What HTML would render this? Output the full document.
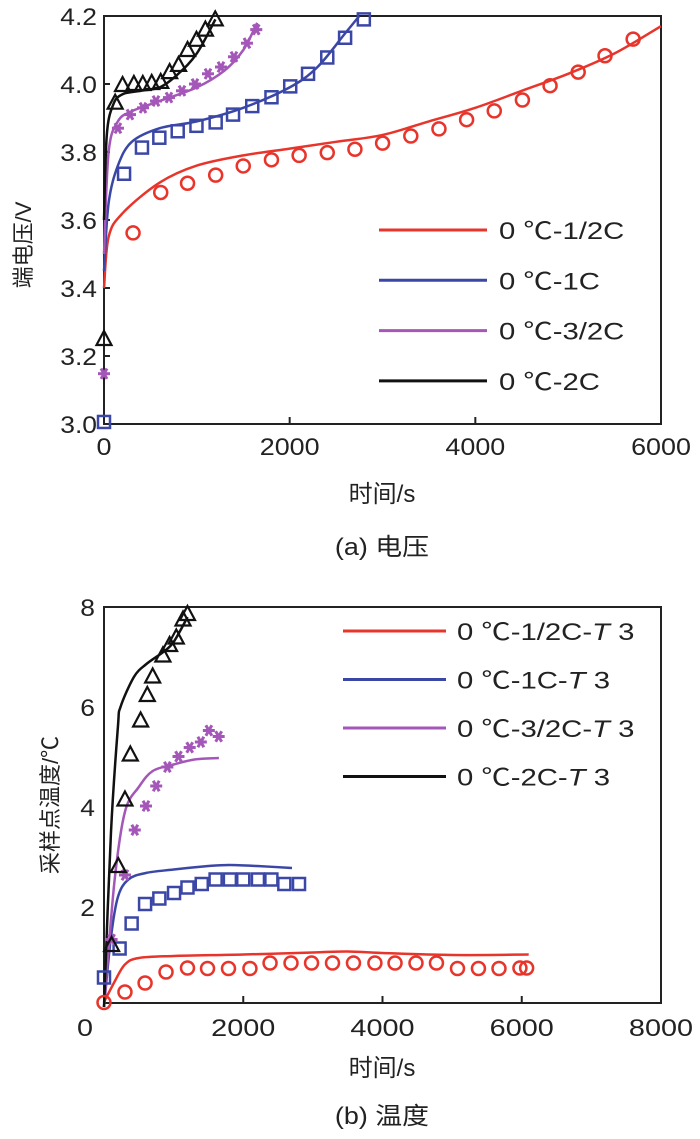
<!DOCTYPE html>
<html><head><meta charset="utf-8">
<style>
html,body{margin:0;padding:0;background:#fff;}
svg{display:block;font-family:"Liberation Sans","Noto Sans CJK SC",sans-serif;}
</style></head>
<body>
<svg id="chart" width="700" height="1139" viewBox="0 0 700 1139" xmlns="http://www.w3.org/2000/svg"></svg>
<script>
// ---------- Chart (a) voltage data ----------
const aRedMarkT = [313,611,900,1203,1500,1804,2102,2405,2703,3001,3305,3608,3906,4204,4507,4805,5108,5397,5700];
const aRedMarkV = [3.562,3.681,3.708,3.732,3.759,3.777,3.790,3.798,3.808,3.826,3.847,3.868,3.895,3.921,3.953,3.995,4.035,4.083,4.132];
const aRedLineT = [0,50,200,600,1000,1500,2000,2500,3000,3500,4000,4500,5000,5500,6000];
const aRedLineV = [3.40,3.55,3.62,3.71,3.76,3.79,3.81,3.83,3.85,3.89,3.93,3.98,4.03,4.09,4.17];
const aBlueMarkT = [0,216,409,596,794,996,1203,1390,1597,1804,2006,2198,2405,2597,2799];
const aBlueMarkV = [3.006,3.736,3.813,3.842,3.861,3.877,3.887,3.910,3.935,3.961,3.993,4.030,4.078,4.136,4.190];
const aBlueLineT = [0,50,150,300,600,1000,1500,2000,2300,2600,2750];
const aBlueLineV = [3.45,3.65,3.76,3.83,3.87,3.89,3.93,3.99,4.05,4.15,4.20];
const aPurpMarkT = [0,150,280,420,560,700,840,980,1120,1260,1400,1540,1640];
const aPurpMarkV = [3.148,3.87,3.91,3.93,3.95,3.96,3.98,4.00,4.03,4.05,4.08,4.12,4.16];
const aPurpLineT = [0,50,150,300,600,1000,1300,1500,1650];
const aPurpLineV = [3.50,3.80,3.89,3.92,3.95,3.99,4.04,4.10,4.18];
const aBlkMarkT = [0,120,200,322,418,514,611,707,803,900,996,1092,1198];
const aBlkMarkV = [3.25,3.945,3.997,4.0,4.0,4.003,4.006,4.035,4.056,4.10,4.13,4.16,4.19];
const aBlkLineT = [0,30,100,200,400,600,800,1000,1200];
const aBlkLineV = [3.60,3.85,3.94,3.97,3.98,3.99,4.03,4.09,4.19];
const aXTicks = [0,2000,4000,6000];
const aYTicks = [3.0,3.2,3.4,3.6,3.8,4.0,4.2];
const aLegend = ["0 \u2103-1/2C","0 \u2103-1C","0 \u2103-3/2C","0 \u2103-2C"];

// ---------- Chart (b) temperature data ----------
const bRedMarkT = [0,301,590,891,1199,1487,1788,2096,2385,2686,2981,3282,3583,3891,4180,4481,4775,5077,5378,5673,5974,6070];
const bRedMarkV = [0.09,0.30,0.48,0.70,0.78,0.77,0.77,0.77,0.88,0.88,0.88,0.88,0.88,0.88,0.88,0.88,0.88,0.77,0.77,0.77,0.78,0.78];
const bRedLineT = [0,150,300,500,1000,2000,3000,3500,4000,5000,6100];
const bRedLineV = [0.10,0.50,0.85,0.98,1.02,1.05,1.09,1.11,1.08,1.04,1.05];
const bBlueMarkT = [0,224,397,590,795,1006,1199,1404,1603,1808,2000,2211,2404,2590,2801];
const bBlueMarkV = [0.59,1.17,1.67,2.06,2.17,2.28,2.39,2.46,2.55,2.55,2.55,2.55,2.55,2.46,2.46];
const bBlueLineT = [0,100,200,350,600,1000,1500,1800,2200,2700];
const bBlueLineV = [0,1.4,2.2,2.55,2.68,2.75,2.82,2.84,2.82,2.78];
const bPurpMarkT = [109,301,442,603,750,910,1070,1231,1391,1506,1647];
const bPurpMarkV = [1.35,2.64,3.54,4.02,4.42,4.80,5.01,5.19,5.30,5.53,5.41];
const bPurpLineT = [0,150,300,500,700,1000,1300,1650];
const bPurpLineV = [0,2.5,3.9,4.4,4.72,4.85,4.95,4.98];
const bBlkMarkT = [109,205,301,378,526,622,699,846,942,1038,1135,1199];
const bBlkMarkV = [1.24,2.82,4.15,5.05,5.73,6.24,6.61,7.03,7.24,7.39,7.75,7.86];
const bBlkLineT = [0,100,200,237,430,600,850,1000,1200];
const bBlkLineV = [0,3.5,5.6,6.0,6.6,6.85,7.1,7.3,7.8];
const bXTicks = [0,2000,4000,6000,8000];
const bYTicks = [2,4,6,8];
const bLegend = ["0 \u2103-1/2C-","0 \u2103-1C-","0 \u2103-3/2C-","0 \u2103-2C-"];

const RED="#e8352c", BLUE="#3b47a6", PURP="#a457b8", BLK="#111";
const svg=document.getElementById('chart');
const NS="http://www.w3.org/2000/svg";
function mk(tag,attrs,parent){const e=document.createElementNS(NS,tag);for(const k in attrs)e.setAttribute(k,attrs[k]);(parent||svg).appendChild(e);return e;}

function axis(x0,x1,y0,y1,tmin,tmax,vmin,vmax){
  return {x:t=>x0+(t-tmin)/(tmax-tmin)*(x1-x0), y:v=>y1-(v-vmin)/(vmax-vmin)*(y1-y0)};
}
function line(g,ax,T,V,color,name){
  const P=T.map((t,i)=>[ax.x(t),ax.y(V[i])]);
  let d='M'+P[0][0].toFixed(1)+','+P[0][1].toFixed(1);
  for(let i=0;i<P.length-1;i++){
    const p0=P[Math.max(i-1,0)],p1=P[i],p2=P[i+1],p3=P[Math.min(i+2,P.length-1)];
    const c1=[p1[0]+(p2[0]-p0[0])/6,p1[1]+(p2[1]-p0[1])/6];
    const c2=[p2[0]-(p3[0]-p1[0])/6,p2[1]-(p3[1]-p1[1])/6];
    d+=`C${c1[0].toFixed(1)},${c1[1].toFixed(1)} ${c2[0].toFixed(1)},${c2[1].toFixed(1)} ${p2[0].toFixed(1)},${p2[1].toFixed(1)}`;
  }
  const p=mk('path',{d:d,fill:'none',stroke:color,'stroke-width':2.5,'stroke-linejoin':'round'},g);
  
  
}
function marker(g,type,cx,cy,color,name){
  let e;
  if(type==='circle') e=mk('circle',{cx:cx,cy:cy,r:6.5,fill:'none',stroke:color,'stroke-width':2.5},g);
  else if(type==='square') e=mk('rect',{x:cx-6,y:cy-6,width:12,height:12,fill:'none',stroke:color,'stroke-width':2.5},g);
  else if(type==='tri') e=mk('path',{d:`M${cx},${cy-8}L${cx+7.5},${cy+6}L${cx-7.5},${cy+6}Z`,fill:'none',stroke:color,'stroke-width':2.2},g);
  else { e=mk('g',{stroke:color,'stroke-width':3},g);
    for(const a of [0,60,120]){const r=a*Math.PI/180;mk('line',{x1:cx-6*Math.cos(r),y1:cy-6*Math.sin(r),x2:cx+6*Math.cos(r),y2:cy+6*Math.sin(r)},e);} }
  
  
}
function markers(g,ax,T,V,type,color,name){T.forEach((t,i)=>marker(g,type,ax.x(t),ax.y(V[i]),color,name));}
const stretchList=[];
function text(x,y,s,size,anchor,name,extra,stretch){
  const e=mk('text',Object.assign({x:x,y:y,'font-size':size,'text-anchor':anchor||'middle',fill:'#222'},extra||{}));
  e.textContent=s;
  
  
  if(stretch) stretchList.push([e,stretch]);
  return e;
}

// ===== Chart (a) =====
const gA=mk('g',{});


const axA=axis(104,661,16,424,0,6000,3.0,4.2);
const frameA=mk('rect',{x:104,y:16,width:557,height:408,fill:'none',stroke:'#222','stroke-width':2},gA);


aXTicks.forEach(t=>{
  if(t>0&&t<6000){const tk=mk('line',{x1:axA.x(t),x2:axA.x(t),y1:424,y2:417,stroke:'#222','stroke-width':2},gA);
    }
  text(axA.x(t),455,String(t),24,'middle','x-tick-label-a',null,1.12);
});
aYTicks.forEach(v=>{
  if(v>3.0&&v<4.2){const tk=mk('line',{x1:104,x2:110,y1:axA.y(v),y2:axA.y(v),stroke:'#222','stroke-width':2},gA);
    }
  text(97,axA.y(v)+9,v.toFixed(1),24,'end','y-tick-label-a',null,1.1);
});
line(gA,axA,aRedLineT,aRedLineV,RED,'sim-line-half-c');
line(gA,axA,aBlueLineT,aBlueLineV,BLUE,'sim-line-1c');
line(gA,axA,aPurpLineT,aPurpLineV,PURP,'sim-line-1-5c');
line(gA,axA,aBlkLineT,aBlkLineV,BLK,'sim-line-2c');
markers(gA,axA,aRedMarkT,aRedMarkV,'circle',RED,'exp-point-half-c');
markers(gA,axA,aBlueMarkT,aBlueMarkV,'square',BLUE,'exp-point-1c');
markers(gA,axA,aPurpMarkT,aPurpMarkV,'star',PURP,'exp-point-1-5c');
markers(gA,axA,aBlkMarkT,aBlkMarkV,'tri',BLK,'exp-point-2c');
[RED,BLUE,PURP,BLK].forEach((c,i)=>{
  const y=230+i*50.3;
  const l=mk('line',{x1:379,x2:487,y1:y,y2:y,stroke:c,'stroke-width':3});
  
  text(499,y+9,aLegend[i],24,'start','legend-label-a',null,1.22);
});
text(382,502,'时间/s',24,'middle','x-axis-title-a',null,1.0);
text(0,0,'端电压/V',22,'middle','y-axis-title-a',{transform:'translate(31,245) rotate(-90)'});
text(382,555,'(a) 电压',24,'middle','caption-a',null,1.12);

// ===== Chart (b) =====
const gB=mk('g',{});


const axB=axis(104,661,607,1003,0,8000,0.08,8);
const frameB=mk('rect',{x:104,y:607,width:557,height:396,fill:'none',stroke:'#222','stroke-width':2},gB);


bXTicks.forEach(t=>{
  if(t>0&&t<8000){const tk=mk('line',{x1:axB.x(t),x2:axB.x(t),y1:1003,y2:996,stroke:'#222','stroke-width':2},gB);
    }
  text(t===0?85:axB.x(t),1036,String(t),24,'middle','x-tick-label-b',null,1.2);
});
bYTicks.forEach(v=>{
  text(95,axB.y(v)+9,String(v),24,'end','y-tick-label-b',null,1.1);
});
line(gB,axB,bRedLineT,bRedLineV,RED,'sim-line-half-c-t3');
line(gB,axB,bBlueLineT,bBlueLineV,BLUE,'sim-line-1c-t3');
line(gB,axB,bPurpLineT,bPurpLineV,PURP,'sim-line-1-5c-t3');
line(gB,axB,bBlkLineT,bBlkLineV,BLK,'sim-line-2c-t3');
markers(gB,axB,bRedMarkT,bRedMarkV,'circle',RED,'exp-point-half-c-t3');
markers(gB,axB,bBlueMarkT,bBlueMarkV,'square',BLUE,'exp-point-1c-t3');
markers(gB,axB,bPurpMarkT,bPurpMarkV,'star',PURP,'exp-point-1-5c-t3');
markers(gB,axB,bBlkMarkT,bBlkMarkV,'tri',BLK,'exp-point-2c-t3');
[RED,BLUE,PURP,BLK].forEach((c,i)=>{
  const y=631+i*48.5;
  const l=mk('line',{x1:343,x2:446,y1:y,y2:y,stroke:c,'stroke-width':3});
  
  const t=text(457,y+9,bLegend[i],24,'start','legend-label-b',null,1.22);
  const ts=document.createElementNS(NS,'tspan');ts.setAttribute('font-style','italic');ts.textContent='T';t.appendChild(ts);
  const ts2=document.createElementNS(NS,'tspan');ts2.textContent=' 3';t.appendChild(ts2);
});
text(382,1076,'时间/s',24,'middle','x-axis-title-b',null,1.0);
text(0,0,'采样点温度/℃',22,'middle','y-axis-title-b',{transform:'translate(58,805) rotate(-90)'});
text(382,1124,'(b) 温度',24,'middle','caption-b',null,1.12);

// horizontal stretch to match reference glyph widths
stretchList.forEach(([e,f])=>{
  const w=e.getComputedTextLength();
  if(w>0){e.setAttribute('textLength',(w*f).toFixed(1));e.setAttribute('lengthAdjust','spacingAndGlyphs');}
});
</script>
</body></html>
